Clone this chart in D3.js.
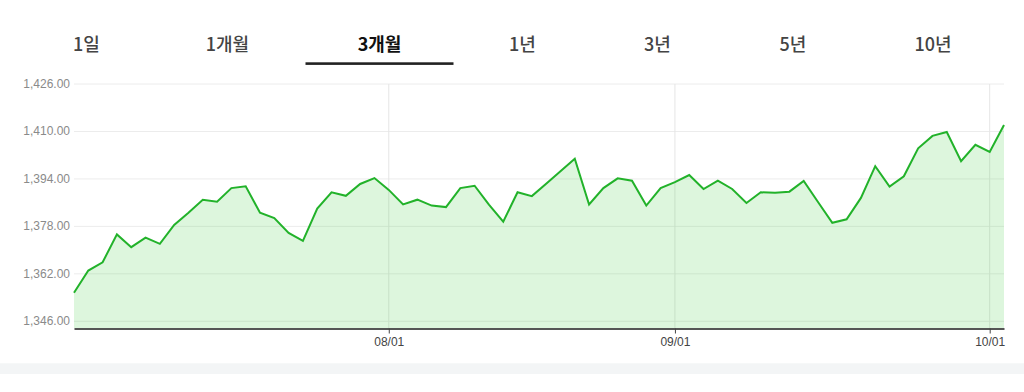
<!DOCTYPE html>
<html>
<head>
<meta charset="utf-8">
<script src="https://cdn.jsdelivr.net/npm/d3@7"></script>
<style>
  html, body { margin: 0; padding: 0; background: #fff; }
  svg { display: block; }
</style>
</head>
<body>
<svg id="chart" width="1024" height="392"></svg>
<script>
// ---- data ----
const tabs = ["1일", "1개월", "3개월", "1년", "3년", "5년", "10년"];
const activeTab = "3개월";

const dates = [
  "07/02","07/03","07/04","07/07","07/08","07/09","07/10","07/11","07/14","07/15","07/16",
  "07/17","07/18","07/21","07/22","07/23","07/24","07/25","07/28","07/29","07/30","07/31",
  "08/01","08/04","08/05","08/06","08/07","08/08","08/11","08/12","08/13","08/14",
  "08/18","08/19","08/20","08/21","08/22","08/25","08/26","08/27","08/28","08/29",
  "09/01","09/02","09/03","09/04","09/05","09/08","09/09","09/10","09/11","09/12","09/15",
  "09/16","09/17","09/18","09/19","09/22","09/23","09/24","09/25","09/26","09/29","09/30",
  "10/01","10/02"
];
const values = [
  1355.6,1363.1,1365.9,1375.3,1371.0,1374.2,1372.1,1378.5,1382.6,1387.0,1386.3,
  1390.9,1391.5,1382.6,1380.8,1375.8,1373.1,1384.0,1389.5,1388.3,1392.3,1394.3,
  1390.3,1385.4,1387.0,1385.0,1384.5,1390.9,1391.7,1385.3,1379.6,1389.5,
  1388.2,1392.4,1396.6,1400.8,1385.4,1390.9,1394.2,1393.4,1385.0,1390.9,
  1392.9,1395.3,1390.6,1393.4,1390.6,1385.9,1389.5,1389.3,1389.7,1393.3,1386.2,
  1379.2,1380.4,1387.6,1398.3,1391.4,1394.9,1404.3,1408.5,1409.8,1400.0,1405.5,
  1403.1,1412.2
];
const yTicks = [1346, 1362, 1378, 1394, 1410, 1426];
const xTicks = ["08/01", "09/01", "10/01"];

// ---- layout ----
const tabX = [86.5, 227.5, 379.5, 522.5, 657.5, 793, 933];
const plot = { left: 74, right: 1004, top: 84, bottom: 328.5 };

const svg = d3.select("#chart");

// tabs
svg.selectAll("text.tab").data(tabs).enter().append("text")
  .attr("class", "tab")
  .attr("x", (d, i) => tabX[i])
  .attr("y", 51)
  .attr("text-anchor", "middle")
  .attr("font-family", "'Noto Sans CJK KR', 'Noto Sans', sans-serif")
  .attr("font-size", 18)
  .attr("font-weight", d => d === activeTab ? 700 : 500)
  .attr("fill", d => d === activeTab ? "#111" : "#444")
  .text(d => d);
const ai = tabs.indexOf(activeTab);
svg.append("rect")
  .attr("x", tabX[ai] - 74).attr("y", 62.3)
  .attr("width", 148).attr("height", 2.6)
  .attr("fill", "#222");

// scales
const x = d3.scalePoint().domain(dates).range([plot.left, plot.right]);
const y = d3.scaleLinear().domain([1346, 1426]).range([321.3, 84]);

// horizontal grid
svg.append("g").selectAll("line").data(yTicks).enter().append("line")
  .attr("x1", plot.left).attr("x2", plot.right)
  .attr("y1", d => y(d)).attr("y2", d => y(d))
  .attr("stroke", "#ececec").attr("stroke-width", 1);

// vertical grid
svg.append("g").selectAll("line").data(xTicks).enter().append("line")
  .attr("x1", d => x(d)).attr("x2", d => x(d))
  .attr("y1", plot.top).attr("y2", plot.bottom)
  .attr("stroke", "#e6e6e6").attr("stroke-width", 1);

// y labels
const fmt = d3.format(",.2f");
svg.append("g").selectAll("text").data(yTicks).enter().append("text")
  .attr("x", 70).attr("y", d => y(d) + 4)
  .attr("text-anchor", "end")
  .attr("font-family", "'Liberation Sans', Arial, sans-serif")
  .attr("font-size", 12)
  .attr("fill", "#8a8a8a")
  .text(d => fmt(d));

// area + line
const pts = dates.map((d, i) => ({ d, v: values[i] }));
const area = d3.area().x(p => x(p.d)).y0(plot.bottom).y1(p => y(p.v));
const line = d3.line().x(p => x(p.d)).y(p => y(p.v));
svg.append("path").datum(pts).attr("d", area)
  .attr("fill", "rgba(52, 200, 52, 0.17)");
svg.append("path").datum(pts).attr("d", line)
  .attr("fill", "none").attr("stroke", "#22b22a").attr("stroke-width", 2)
  .attr("stroke-linejoin", "miter");

// x axis
const xAxis = d3.axisBottom(x).tickValues(xTicks).tickSize(5).tickPadding(4).tickSizeOuter(0);
const gx = svg.append("g").attr("transform", `translate(0,${plot.bottom})`).call(xAxis);
gx.select(".domain").attr("stroke", "#555").attr("stroke-width", 1.8);
gx.selectAll(".tick line").attr("stroke", "#444");
gx.selectAll(".tick text")
  .attr("font-family", "'Liberation Sans', Arial, sans-serif")
  .attr("font-size", 12).attr("fill", "#444");

// bottom band
svg.append("rect").attr("x", 0).attr("y", 363.3).attr("width", 1024).attr("height", 10.7)
  .attr("fill", "#f3f5f6");
</script>
</body>
</html>
